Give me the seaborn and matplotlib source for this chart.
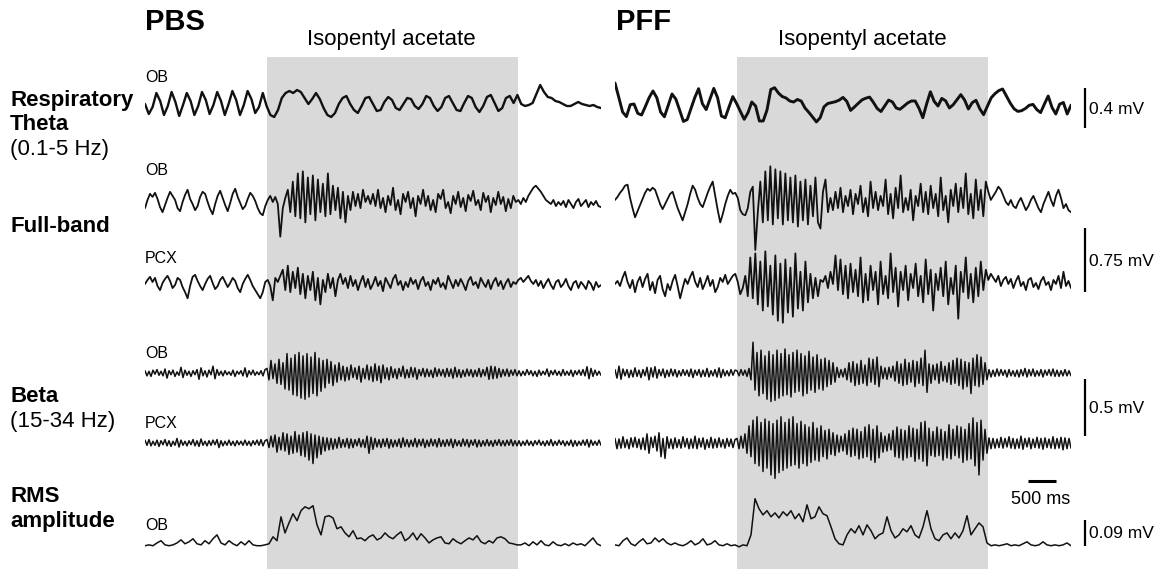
import numpy as np
import pandas as pd
import seaborn as sns
import matplotlib.pyplot as plt

# time shown in each panel (s) and odor window (s)
T = 8.14
odor_on, odor_off = 2.17, 6.65

# ---- PBS traces (uV) ----
theta_ob_pbs = [0, -100, -30, 110, 30, -110, -20, 120, 20, -120, -10, 110, 30, -110, -20, 120,
                40, -100, -10, 120, 30, -110, 0, 130, 40, -110, -10, 130, 50, -90, -30, 110,
                -20, -110, -130, -60, 60, 110, 130, 110, 140, 120, 60, 0, 50, 110, 50, -40, -110, -130, -90, 0,
                60, 80, 0, -60, -90, -20, 60, 70, 0, -70, -60, 20, 70, 40, -40, -60, 0, 60, 50, -20,
                -50, 0, 80, 60, -20, -70, -30, 60, 80, 10, -60, -70, 10, 80, 60, -30, -80, -20, 70, 90,
                10, -70, -40, 60, 80, 10,
                90, 0, -20, -10, 10, 100, 190, 120, 70, 60, 30, 20, 0, -20, -20, 0, 20, 0, -10, -20, -10, -30, -40]

full_ob_pbs = [-72, 24, 96, 60, 108, 36, -60, -120, -36, 48, 120, 72, 24, -72, -108, 0, 84, 144, 36, -24,
               -96, -48, 60, 120, 96, 0, -84, -144, -24, 72, 132, 48, -36, -108, -12, 96, 156, 60, -12, -84,
               -48, 36, 108, 72, 12, -72, -132, -156, -48,
               24, 72, 0, 60, -24, -408, -72, 48,
               144, -120, 240, -168, 336, -192, 360, -240, 288, -144, 312, -216, 264, -120, 216, -168, 336, -144, 192, -96,
               168, -192, 120, -240, 72, -96, 120, -48, 96, -72, 144, 0, 72, -24,
               96, -48, 144, -72, 48, -120, 72, -36, 168, -96, 24, -144, 96, 0, 120, -72, 48, -168, 72, -24,
               144, -48, 72, -96, 24, -120, 96, 36, 144, -72, 0, -132, 72, -24, 120, -60, 48, -108, 84, 12,
               132, -36, 24, -96, 108, 0, 72, -120, 48, -36, 120, -24, 60, -108, 36, -72, 72, 0,
               24, -24, 48, 0, 72, 120, 168, 192, 156, 120, 72, 24, 0, -24, 24, -48, 0, -36, 12, -60,
               24, -24, -72, 0, 36, -48, -12, 24, -60, 0, -36, 12, -48, -60]

full_pcx_pbs = [0, 48, 84, 24, 72, -24, -72, 12, 60, 96, 36, -48, -12, 72, 48, -36, -96, -168, -24, 84,
                108, 36, -24, -72, 0, 60, 96, 12, -60, -24, 48, 84, 24, -36, 12, 72, 36, -48, -96, 0,
                60, 108, 48, -24, -72, -120, -168, -96, 24,
                48, -24, -192, 72, 24, 96,
                168, -72, 216, -96, 144, -48, 192, -120, 120, -168, 96, -72, 144, -192, 72, -240, 48, -96, 120, -48, 72, -144,
                48, 120, 0, 72, -48, 96, -24, 48, -72, 24, 96, -36, 60, -60, 0, 84, -24, 36, -84, 72,
                12, -48, 60, 108, -12, 36, -72, 24, -36, 72, 0, 48, -60, 36, 84, -24, 24, -72, 48, 0,
                72, -36, 12, -60, 96, 24, -48, 48, -24, 60, 0, -72, 36, 84, -12, 24, -48, 72, 12, -36,
                48, -60, 24, 72, -24, 36, -60, 12, 60, -36, 24, 0,
                48, 72, 24, 60, 96, 36, 0, 48, -24, 36, -48, 12, 60, -12, -60, 24, 48, -36, 0, 60,
                -24, -72, 12, 36, -48, 24, -12, -60, 36, 0, -72, 24, -36, -12]

beta_ob_pbs = [20, -25, 15, -30, 25, -10, 30, -20, 15, -25, 35, -45, 20, -15, 25, -30, 10, -20, 50, -40,
               25, -20, 15, -30, 20, -15, 30, -55, 45, -25, 20, -35, 25, -15, 60, -50, 30, -20, 15, -25,
               20, -15, 10, -20, 25, -30, 15, -10, 20, -25, 45, -35, 20, -15, 25, -20, 10, -15, 20, -25, 30,
               40, -60, 110, -50, 80, -90, 120, -100, 90, -140, 170, -150, 130, -190, 160, -200, 180, -220, 150, -230,
               170, -210, 140, -180, 180, -200, 130, -160, 110, -130, 120, -90, 100, -110, 70, -80, 90, -60, 60, -70,
               50, -60, 70, -40, 45, -55, 60, -80, 40, -50, 70, -60, 55, -75, 80, -65, 60, -85, 70, -50,
               45, -60, 55, -40, 35, -50, 40, -30, 60, -45, 30, -40, 50, -35, 45, -55, 30, -25, 40, -35,
               35, -30, 25, -40, 45, -30, 35, -25, 30, -35, 40, -30, 35, -45, 50, -35, 30, -40, 25, -30,
               35, -25, 30, -35, 25, -30, 40, -35, 30, -25, 50, -55, 60, -50, 55, -45, 40, -35, 30, -25,
               35, -30, 25, -20, 30, -25,
               20, -25, 15, -20, 30, -15, 20, -25, 15, -30, 25, -20, 15, -15, 35, -30, 20, -15, 25, -20,
               15, -25, 30, -20, 15, -20, 25, -30, 20, -15, 25, -20, 30, -25, 55, -50, 40, -30, 25, -20, 15, -20]

beta_pcx_pbs = [25, -20, 30, -25, 15, -20, 25, -30, 20, -15, 30, -25, 20, -30, 15, -20, 40, -35, 25, -20,
                15, -25, 20, -15, 30, -25, 20, -30, 35, -20, 15, -25, 20, -20, 25, -15, 30, -40, 20, -25,
                15, -20, 25, -20, 15, -25, 20, -15, 15, -20, 25, -20, 15, -25, 20, -15, 25, -20, 30, -25, 20,
                30, -40, 60, -35, 70, -80, 50, -60, 90, -70, 80, -100, 60, -90, 100, -80, 70, -110, 90, -120,
                100, -150, 80, -180, 70, -130, 60, -100, 50, -70, 45, -60, 40, -55, 35, -45, 50, -40, 30, -35,
                40, -45, 35, -40, 30, -25, 40, -35, 30, -40, 60, -90, 50, -55, 40, -35, 30, -40, 35, -30,
                40, -45, 30, -35, 25, -30, 35, -40, 45, -30, 30, -35, 25, -30, 40, -35, 30, -25, 35, -40,
                25, -30, 35, -25, 30, -35, 40, -30, 25, -30, 30, -25, 35, -40, 30, -25, 20, -30, 35, -25,
                30, -35, 25, -20, 30, -35, 25, -30, 20, -25, 30, -25, 20, -30, 25, -20, 30, -25, 20, -25,
                25, -20, 30, -25, 20, -25,
                20, -25, 15, -20, 25, -20, 15, -25, 20, -15, 25, -20, 15, -25, 20, -20, 30, -25, 15, -20,
                25, -15, 20, -25, 15, -20, 25, -30, 20, -25, 15, -20, 25, -20, 30, -35, 25, -20, 15, -20, 25, -20]

rms_ob_pbs = [19, 22, 19, 29, 37, 22, 19, 22, 29, 40, 26, 33, 44, 26, 22, 37, 26, 44, 58, 29,
              22, 37, 26, 19, 33, 22, 37, 22, 19, 19, 22,
              26, 51, 37, 123, 65, 101, 134, 109, 145, 159, 152, 163, 94, 58, 123, 127, 119, 80, 87, 65,
              51, 73, 44, 47, 37, 51, 58, 40, 47, 65, 51, 44, 58, 69, 37, 47, 65, 40, 62, 47,
              29, 40, 47, 51, 29, 26, 44, 33, 26, 37, 47, 40, 55, 33, 26, 37, 29, 47, 51, 44, 29, 26, 22,
              22, 29, 19, 33, 22, 37, 22, 19, 33, 22, 19, 26, 19, 29, 22, 26, 19, 33, 47, 26, 19]

# ---- PFF traces (uV) ----
theta_ob_pff = [210, 66, -80, -126, -7, 0, -94, -110, -24, 65, 130, 63, -80, -128, -14, 100, 50, -60, -174, -156,
                -45, 65, 153, 3, -56, 50, 156, 62, -120, -138, -30, 74, 5, -75, -153, -87, 20, -20, -170, -170,
                -60, 145, 163, 110, 75, 60, 30, 20, 45, 30, -40, -83, -130, -179, -137, -28, 5, 14, 23, 39,
                66, 26, -64, -30, 6, 41, 58, 69, 16, -45, -75, -18, 39, 21, -40, -53, -22, 10, 30, 30,
                -43, -137, 0, 122, 26, -20, 56, 32, -40, -7, 43, 94, 40, -50, 13, 37, -48, -107, -22, 62,
                104, 134, 150, 80, 10, -47, -74, -67, -45, -13, -4, -56, -86, -1, 80, -34, -100, -2, 15, -100, -12]

full_ob_pff = [24, 60, 108, 144, 192, 204, 48, -72, -180, -108, -36, 36, 108, 156, 132, 168, 144, 60, -24, -84,
               -24, 36, 96, 120, 24, -72, -144, -216, -120, -24, 96, 192, 144, 48, -24, -60, 24, 108, 180, 240,
               72, -96, -240, -144, -24, 72, 144, 96, 108,
               48, -96, -144, -156, -72, 120, 180, -564, -120, 240,
               -240, 360, -216, 420, -264, 384, -192, 360, -264, 336, -216, 288, -240, 312, -288, 240, -216, 264,
               -264, 192, -168, 288, -240, -312, 120, 264, -120,
               48, -96, 120, -72, 168, -120, 72, -48, 144, -144, 96, -24, 192, -120, 48, -168, 240, -72, 120, -96,
               72, -48, 264, -144, 96, -192, 168, -72, 312, -120, 48, -96, 144, -216, 72, -48, 216, -120, 120, -144,
               192, -72, 96, -168, 288, -96, 72, -240, 144, -48, 216, -120, 168, -72, 336, -144, 96, -192, 264, -96,
               144, -168, 240,
               120, 24, 72, 120, 180, 144, 72, 0, -36, 24, -48, -72, 0, 48, -24, -96, -48, 24, 72, 0,
               -72, -120, -24, 48, 120, 24, -48, 72, 144, 48, -72, -24, -96, -120]

full_pcx_pff = [0, 36, -24, 72, 144, 24, -48, 48, -96, 24, 84, -36, 60, 120, -72, 24, -108, 48, 96, -60,
                -144, 0, -72, 36, 108, -24, -168, -48, 60, 0, 84, 144, 24, -36, 72, -60, 12, 96, -24, 48,
                -96, -36, 72, 24, 108, 0, 48, 96, 120,
                24, -120, -48, 96, -144, 312, -168, 360, -240, 264, -312, 384, -264, 216, -360, 336, -432, 240,
                -456, 288, -336, 192, -384, 360, -288, 144, -312, 264, -216, 120, -168, 72, -144, 48,
                24, 96, -48, 144, 0, 336, -72, 288, -120, 216, -168, 240, -96, 168, -144, 312, -216, 120, -192, 216,
                -72, 144, -240, 264, -120, 96, -168, 360, -96, 192, -264, 144, -72, 216, -192, 120, -48, 240, -144, 96,
                -216, 288, -120, 168, -312, 120, -72, 192, -144, 264, -240, 72, -120, 216, -408, 144, -96, 312, -168, 120,
                -216, 192, -144, 264, -72, 168,
                48, 120, 72, 24, 96, -24, 48, 84, 0, 60, -48, 36, 96, -24, 24, -72, 48, 72, -36, 12,
                -60, 36, 84, -12, 24, -72, 48, 0, 96, -48, 144, -24, 36, -48]

beta_ob_pff = [30, -45, 60, -55, 35, -25, 30, -40, 25, -35, 45, -30, 25, -40, 30, -25, 50, -60, 45, -35,
               55, -45, 30, -25, 35, -40, 25, -30, 35, -25, 30, -35, 20, -25, 30, -20, 25, -30, 35, -40,
               25, -20, 30, -35, 25, -30, 40, -35, 20, -25, 30, -35, 45, -40, 30, -25, 20, -25, 30, -20, 25,
               20, -25, 30, -20, 25, -30, 40, -60, 270, -150, 180, -200, 200, -180, 150, -230, 190, -250, 160, -240,
               200, -220, 170, -200, 210, -190, 160, -210, 180, -170, 200, -160, 170, -200, 150, -180, 190, -150, 140, -170,
               160, -140, 120, -150, 130, -120, 110, -100, 90, -80, 50, -40, 30, -35, 40, -60, 90, -80, 100, -110,
               80, -100, 110, -90, 70, -110, 130, -80, 120, -100, 140, -120, 60, -50, 45, -55, 50, -40, 60, -70,
               100, -90, 80, -110, 120, -100, 90, -80, 110, -120, 100, -90, 130, -110, 200, -170, 80, -90, 70, -60,
               80, -90, 100, -70, 60, -80, 90, -100, 110, -90, 130, -110, 120, -140, 100, -120, 90, -180, 130, -110,
               160, -120, 140, -100, 90, -60,
               30, -35, 25, -30, 35, -25, 30, -20, 25, -35, 30, -25, 20, -30, 25, -35, 30, -25, 40, -35,
               30, -25, 35, -30, 20, -25, 30, -35, 25, -20, 30, -25, 35, -30, 25, -30, 20, -25, 30, -25, 20, -25]

beta_pcx_pff = [40, -50, 35, -45, 55, -40, 30, -50, 45, -35, 50, -40, 35, -55, 45, -60, 80, -90, 50, -40,
                60, -70, 90, -120, 40, -135, 55, -45, 35, -50, 45, -40, 30, -45, 55, -35, 40, -50, 35, -45,
                60, -50, 40, -35, 45, -55, 30, -40, 50, -45, 35, -40, 45, -35, 30, -45, 40, -30, 35, -40, 30,
                40, -50, 60, -45, 80, -90, 150, -120, 200, -180, 230, -200, 180, -250, 210, -220, 190, -280, 170, -310,
                200, -260, 230, -240, 180, -220, 210, -200, 230, -190, 170, -220, 190, -180, 160, -200, 140, -170, 180, -150,
                130, -160, 150, -120, 110, -140, 120, -100, 90, -110, 70, -80, 60, -70, 80, -100, 110, -120, 130, -110,
                120, -140, 100, -130, 140, -120, 160, -150, 120, -170, 150, -130, 90, -80, 60, -70, 80, -60, 110, -120,
                140, -130, 120, -150, 110, -130, 150, -120, 130, -160, 120, -140, 180, -160, 190, -200, 130, -110, 100, -120,
                140, -110, 120, -150, 100, -130, 160, -140, 120, -110, 150, -130, 140, -170, 120, -150, 170, -140, 220, -200,
                180, -280, 200, -150, 120, -90,
                45, -50, 40, -45, 35, -40, 50, -45, 40, -35, 55, -45, 40, -50, 35, -45, 60, -55, 40, -35,
                45, -50, 35, -40, 50, -45, 40, -55, 45, -40, 35, -45, 55, -50, 40, -45, 50, -60, 45, -50, 40, -45]

rms_ob_pff = [22, 19, 37, 47, 26, 19, 33, 44, 26, 29, 47, 33, 44, 29, 22, 29, 22, 19, 26, 37,
              22, 29, 44, 22, 26, 37, 22, 19, 26, 19, 22, 15, 22, 19, 58, 188, 152, 130, 145, 123,
              137, 119, 141, 127, 145, 116, 134, 105, 166, 116, 123, 159, 134, 127, 87, 44, 26, 22, 58, 80,
              65, 91, 58, 94, 73, 44, 58, 65, 123, 73, 47, 58, 80, 69, 91, 58, 47, 87, 145, 80,
              44, 37, 58, 65, 44, 65, 47, 73, 127, 58, 80, 101, 87, 29, 19, 22, 19, 22, 26, 19,
              22, 19, 26, 33, 22, 19, 22, 33, 22, 19, 22, 19, 22, 29, 19]

# ---- layout (figure pixels) ----
W, H = 1169, 569
# row: baseline y (px), gain (px per uV), line width
rows = {
    'theta': (104, 0.100, 1.7),
    'full_ob': (202, 0.085, 1.3),
    'full_pcx': (284, 0.085, 1.3),
    'beta_ob': (373, 0.114, 1.1),
    'beta_pcx': (443, 0.114, 1.1),
    'rms': (551, 0.278, 1.1),
}
panels = {
    'PBS': dict(x0=145, traces={'theta': theta_ob_pbs, 'full_ob': full_ob_pbs, 'full_pcx': full_pcx_pbs,
                                'beta_ob': beta_ob_pbs, 'beta_pcx': beta_pcx_pbs, 'rms': rms_ob_pbs}),
    'PFF': dict(x0=615, traces={'theta': theta_ob_pff, 'full_ob': full_ob_pff, 'full_pcx': full_pcx_pff,
                                'beta_ob': beta_ob_pff, 'beta_pcx': beta_pcx_pff, 'rms': rms_ob_pff}),
}

sns.set_theme(style='white')
plt.rcParams['font.family'] = ['Liberation Sans', 'DejaVu Sans']
plt.rcParams['text.color'] = 'black'

fig = plt.figure(figsize=(W / 100, H / 100), dpi=100)


def fpos(x, y):
    return x / W, 1 - y / H


axes = {}
for name, p in panels.items():
    ax = fig.add_axes([p['x0'] / W, 0, 456 / W, 1])
    ax.axvspan(odor_on, odor_off, ymin=0, ymax=1 - 57 / H, color='#d9d9d9', lw=0, zorder=0)
    for row, vals in p['traces'].items():
        base, gain, lw = rows[row]
        v = np.array(vals, dtype=float)
        df = pd.DataFrame({'t': np.linspace(0, T, len(v)), 'y': base - v * gain})
        if row == 'theta' and name == 'PFF':
            lw = 2.1
        sns.lineplot(data=df, x='t', y='y', ax=ax, color='#111111', lw=lw,
                     estimator=None, sort=False, zorder=3)
    ax.set_xlim(0, T)
    ax.set_ylim(H, 0)
    ax.axis('off')
    axes[name] = ax

# scale bars on the PFF panel
ax = axes['PFF']
bar_t = 8.39
for c, mv, gain, lab in [(108, 0.4, 0.100, '0.4 mV'), (260, 0.75, 0.085, '0.75 mV'),
                         (407, 0.5, 0.114, '0.5 mV'), (533, 0.09, 0.278, '0.09 mV')]:
    half = mv * 1000 * gain / 2
    ax.plot([bar_t, bar_t], [c - half, c + half], color='black', lw=1.6, clip_on=False,
            solid_capstyle='butt')
    ax.text(bar_t + 0.08, c + 1, lab, fontsize=12.5, va='center', ha='left', clip_on=False)
ax.plot([7.37, 7.87], [481, 481], color='black', lw=2.2, clip_on=False, solid_capstyle='butt')
ax.text(7.6, 499, '500 ms', fontsize=13, ha='center', va='center')

# titles
fig.text(*fpos(145, 22), 'PBS', fontsize=21, fontweight='bold', va='center', ha='left')
fig.text(*fpos(616, 22), 'PFF', fontsize=21, fontweight='bold', va='center', ha='left')
fig.text(*fpos(391, 39), 'Isopentyl acetate', fontsize=16, va='center', ha='center')
fig.text(*fpos(862, 39), 'Isopentyl acetate', fontsize=16, va='center', ha='center')

# row labels
for y, s, bold in [(101, 'Respiratory', True), (124, 'Theta', True), (150, '(0.1-5 Hz)', False),
                   (226, 'Full-band', True), (396, 'Beta', True), (421, '(15-34 Hz)', False),
                   (497, 'RMS', True), (521, 'amplitude', True)]:
    fig.text(*fpos(10, y), s, fontsize=16, fontweight='bold' if bold else 'normal',
             va='center', ha='left')

# channel labels
for y, s in [(77, 'OB'), (170, 'OB'), (258, 'PCX'), (353, 'OB'), (423, 'PCX'), (525, 'OB')]:
    fig.text(*fpos(145, y), s, fontsize=11.5, va='center', ha='left')

fig.savefig('out.png', dpi=100)
